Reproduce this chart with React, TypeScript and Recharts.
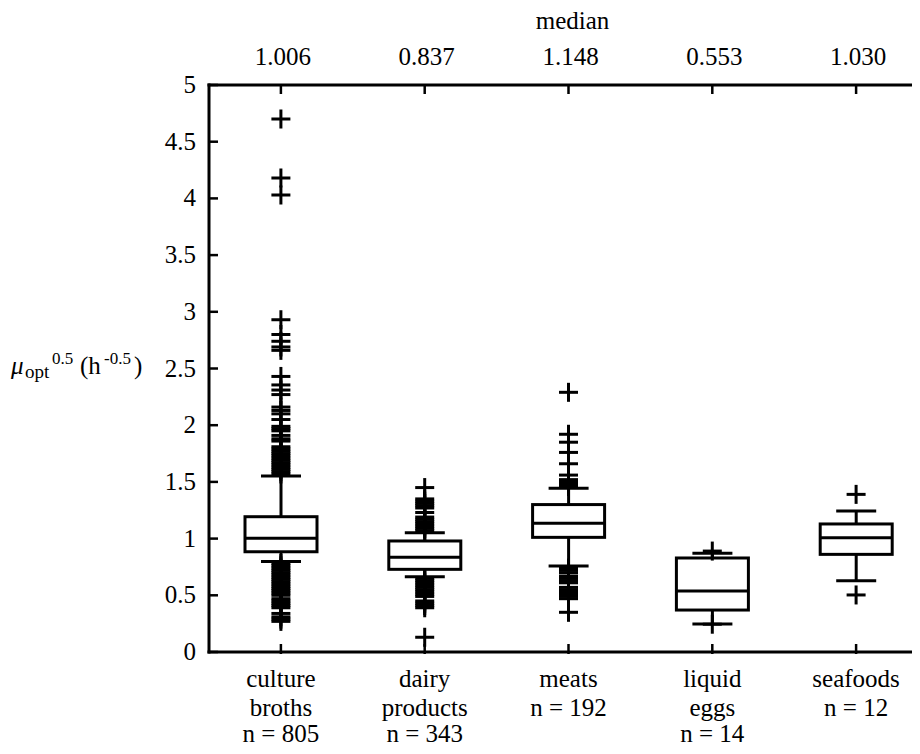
import React from 'react';
import { ComposedChart, Bar, Scatter, XAxis, YAxis } from 'recharts';

const FONT = "'Liberation Serif', 'DejaVu Serif', 'Noto Serif', 'Times New Roman', Times, serif";

const categories = ['culture broths', 'dairy products', 'meats', 'liquid eggs', 'seafoods'];
const categoryLabelLines = [
  ['culture', 'broths', 'n = 805'],
  ['dairy', 'products', 'n = 343'],
  ['meats', 'n = 192'],
  ['liquid', 'eggs', 'n = 14'],
  ['seafoods', 'n = 12'],
];
const medianLabels = ['1.006', '0.837', '1.148', '0.553', '1.030'];

const whiskerLow = [0.797, 0.664, 0.758, 0.247, 0.628];
const q1Values = [0.884, 0.729, 1.011, 0.37, 0.861];
const medianValues = [1.003, 0.835, 1.135, 0.538, 1.008];
const q3Values = [1.193, 0.979, 1.3, 0.829, 1.129];
const whiskerHigh = [1.552, 1.052, 1.443, 0.871, 1.244];

const cultureOutliers = [
  4.7, 4.18, 4.03, 2.93, 2.8, 2.74, 2.69, 2.66, 2.43, 2.355, 2.31, 2.27,
  2.16, 2.13, 2.1, 2.05, 1.99, 1.97, 1.95, 1.91, 1.88, 1.86,
  1.81, 1.79, 1.77, 1.75, 1.73, 1.71, 1.69, 1.67, 1.65, 1.63, 1.61, 1.59, 1.57,
  0.78, 0.76, 0.74, 0.72, 0.7, 0.68, 0.66, 0.64, 0.62, 0.6, 0.58, 0.56, 0.54, 0.52, 0.5,
  0.47, 0.45, 0.43, 0.41, 0.39, 0.34, 0.31, 0.29, 0.27,
];
const dairyOutliers = [
  1.45, 1.35, 1.33, 1.31, 1.29, 1.27, 1.23, 1.19, 1.17, 1.15, 1.13, 1.11, 1.09, 1.07,
  0.65, 0.63, 0.61, 0.59, 0.57, 0.55, 0.53, 0.51, 0.49, 0.45, 0.43, 0.41, 0.39, 0.13,
];
const meatsOutliers = [
  2.29, 1.92, 1.85, 1.76, 1.66, 1.56, 1.52, 1.5, 1.48, 1.46,
  0.74, 0.72, 0.7, 0.67, 0.65, 0.63, 0.61, 0.57, 0.55, 0.53, 0.51, 0.49, 0.47, 0.35,
];
const eggsOutliers = [0.89, 0.245];
const seafoodsOutliers = [1.39, 0.503];

const outlierLists = [cultureOutliers, dairyOutliers, meatsOutliers, eggsOutliers, seafoodsOutliers];

const yTicks = [0, 0.5, 1, 1.5, 2, 2.5, 3, 3.5, 4, 4.5, 5];

const boxData = categories.map((name, i) => ({
  name,
  box: [q1Values[i], q3Values[i]],
  lo: whiskerLow[i],
  q1: q1Values[i],
  med: medianValues[i],
  q3: q3Values[i],
  hi: whiskerHigh[i],
}));

const outlierData = categories.flatMap((name, i) =>
  outlierLists[i].map((value) => ({ name, value }))
);

const BoxShape = (props: any) => {
  const { x, y, width, height, payload } = props;
  if (!payload || height == null) return null;
  const { lo, q1, med, q3, hi } = payload;
  const unit = height / (q3 - q1);
  const py = (v: number) => y + (q3 - v) * unit;
  const cx = x + width / 2;
  const s = { stroke: '#000', strokeWidth: 3 };
  return (
    <g>
      <line x1={cx} x2={cx} y1={py(q3)} y2={py(hi)} {...s} />
      <line x1={cx - 20} x2={cx + 20} y1={py(hi)} y2={py(hi)} {...s} />
      <line x1={cx} x2={cx} y1={py(q1)} y2={py(lo)} {...s} />
      <line x1={cx - 20} x2={cx + 20} y1={py(lo)} y2={py(lo)} {...s} />
      <rect x={x} y={y} width={width} height={height} fill="#fff" {...s} />
      <line x1={x} x2={x + width} y1={py(med)} y2={py(med)} {...s} />
    </g>
  );
};

const PlusShape = (props: any) => {
  const { cx, cy } = props;
  if (cx == null || cy == null) return null;
  const h = 9.5;
  return (
    <g>
      <line x1={cx - h} x2={cx + h} y1={cy} y2={cy} stroke="#000" strokeWidth={3} />
      <line x1={cx} x2={cx} y1={cy - h} y2={cy + h} stroke="#000" strokeWidth={3} />
    </g>
  );
};

const BottomTick = (props: any) => {
  const { x, y, payload } = props;
  const idx = categories.indexOf(payload.value);
  const lines = categoryLabelLines[idx] || [];
  const baselines = [35, 64, 90];
  return (
    <g>
      <line x1={x} x2={x} y1={y - 8} y2={y + 2} stroke="#000" strokeWidth={2.5} />
      {lines.map((t, k) => (
        <text key={k} x={x} y={y + baselines[k]} textAnchor="middle" style={{ fontFamily: FONT }} fontSize={25} fill="#000">
          {t}
        </text>
      ))}
    </g>
  );
};

const TopTick = (props: any) => {
  const { x, y, payload } = props;
  const idx = categories.indexOf(payload.value);
  return (
    <g>
      <line x1={x} x2={x} y1={y} y2={y + 9} stroke="#000" strokeWidth={2.5} />
      <text x={x + 2} y={y - 20} textAnchor="middle" style={{ fontFamily: FONT }} fontSize={25} fill="#000">
        {medianLabels[idx]}
      </text>
      {idx === 2 && (
        <text x={x + 4} y={y - 56} textAnchor="middle" style={{ fontFamily: FONT }} fontSize={25} fill="#000">
          median
        </text>
      )}
    </g>
  );
};

const LeftTick = (props: any) => {
  const { x, y, payload } = props;
  return (
    <g>
      <line x1={x} x2={x + 9} y1={y} y2={y} stroke="#000" strokeWidth={2.5} />
      <text x={x - 13} y={y + 8} textAnchor="end" style={{ fontFamily: FONT }} fontSize={25} fill="#000">
        {String(payload.value)}
      </text>
    </g>
  );
};

const RightTick = (props: any) => {
  const { x, y } = props;
  return <line x1={x - 10} x2={x} y1={y} y2={y} stroke="#000" strokeWidth={2.5} />;
};

const YLabel = () => (
  <text y={366} style={{ fontFamily: FONT }} fontSize={25} fill="#000">
    <tspan x={3} fontStyle="italic">μ</tspan>
    <tspan x={17} fontSize={19} dy={4}>opt</tspan>
    <tspan x={44} fontSize={17} dy={-14}>0.5</tspan>
    <tspan x={72} dy={10}>(h</tspan>
    <tspan x={96} fontSize={17} dy={-10}>-0.5</tspan>
    <tspan x={126} dy={10}>)</tspan>
  </text>
);

const axisLineStyle = { stroke: '#000', strokeWidth: 3, strokeLinecap: 'square' as const };

export default function App() {
  return (
    <div style={{ width: 912, height: 746, overflow: 'hidden', marginBottom: -8, background: '#fff' }}>
      <ComposedChart
        width={940}
        height={746}
        data={boxData}
        margin={{ top: 0, right: 0, bottom: 0, left: 0 }}
      >
        <XAxis
          dataKey="name"
          type="category"
          allowDuplicatedCategory={false}
          height={102}
          axisLine={axisLineStyle}
          tickLine={false}
          tickSize={0}
          tickMargin={0}
          interval={0}
          tick={<BottomTick />}
        />
        <XAxis
          xAxisId="top"
          dataKey="name"
          type="category"
          orientation="top"
          height={77}
          axisLine={axisLineStyle}
          tickLine={false}
          tickSize={0}
          tickMargin={0}
          interval={0}
          tick={<TopTick />}
        />
        <YAxis
          type="number"
          domain={[0, 5]}
          ticks={yTicks}
          interval={0}
          width={201}
          axisLine={axisLineStyle}
          tickLine={false}
          tickSize={0}
          tickMargin={0}
          allowDataOverflow
          tick={<LeftTick />}
          label={{ content: () => <YLabel /> }}
        />
        <YAxis
          yAxisId="right"
          orientation="right"
          type="number"
          domain={[0, 5]}
          ticks={yTicks}
          interval={0}
          width={20}
          axisLine={axisLineStyle}
          tickLine={false}
          tickSize={0}
          tickMargin={0}
          allowDataOverflow
          tick={<RightTick />}
        />
        <Bar
          data={boxData}
          dataKey="box"
          barSize={72}
          shape={<BoxShape />}
          isAnimationActive={false}
        />
        <Scatter
          data={outlierData}
          dataKey="value"
          shape={<PlusShape />}
          isAnimationActive={false}
        />
      </ComposedChart>
    </div>
  );
}
